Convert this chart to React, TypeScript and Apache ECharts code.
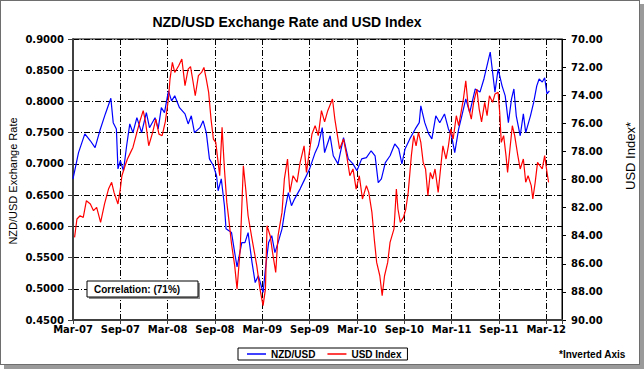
import React, { useEffect, useRef } from "react";
import * as echarts from "echarts";

// x values are months elapsed since Mar-2007
const tickLabels = ["Mar-07", "Sep-07", "Mar-08", "Sep-08", "Mar-09", "Sep-09", "Mar-10", "Sep-10", "Mar-11", "Sep-11", "Mar-12"];

const nzdUsd: [number, number][] = [
  [0.0, 0.676], [0.7, 0.718], [1.5, 0.748], [2.2, 0.737], [2.8, 0.726], [3.4, 0.753], [4.1, 0.78], [4.8, 0.805],
  [5.1, 0.766], [5.5, 0.756], [5.7, 0.692], [6.0, 0.705], [6.4, 0.689], [6.8, 0.729], [7.2, 0.764], [7.6, 0.75],
  [8.1, 0.774], [8.7, 0.75], [9.3, 0.782], [9.7, 0.758], [10.4, 0.774], [10.8, 0.756], [11.2, 0.79], [11.6, 0.782],
  [12.1, 0.817], [12.5, 0.801], [12.9, 0.809], [13.5, 0.79], [14.2, 0.78], [14.6, 0.764], [15.0, 0.777], [15.4, 0.75],
  [16.1, 0.758], [16.5, 0.769], [16.9, 0.75], [17.3, 0.708], [17.8, 0.697], [18.2, 0.681], [18.4, 0.657], [18.8, 0.676],
  [19.2, 0.633], [19.4, 0.596], [20.1, 0.59], [20.5, 0.558], [20.8, 0.535], [21.4, 0.574], [21.8, 0.574], [22.2, 0.59],
  [22.7, 0.542], [23.1, 0.51], [23.5, 0.521], [24.1, 0.494], [24.4, 0.532], [24.8, 0.574], [25.2, 0.585], [25.6, 0.558],
  [26.0, 0.574], [26.5, 0.596], [26.9, 0.628], [27.3, 0.654], [27.7, 0.633], [28.1, 0.644], [28.8, 0.66], [29.4, 0.676],
  [30.0, 0.692], [30.7, 0.718], [31.1, 0.729], [31.6, 0.758], [31.9, 0.718], [32.6, 0.745], [33.0, 0.713], [33.6, 0.7],
  [34.3, 0.742], [34.9, 0.708], [35.5, 0.7], [36.0, 0.689], [36.6, 0.708], [37.2, 0.71], [37.8, 0.721], [38.3, 0.713],
  [38.7, 0.67], [39.1, 0.676], [39.6, 0.702], [40.2, 0.713], [40.8, 0.732], [41.3, 0.724], [41.7, 0.7], [42.1, 0.724],
  [42.7, 0.74], [43.4, 0.756], [43.9, 0.766], [44.1, 0.793], [44.6, 0.766], [45.1, 0.748], [45.5, 0.74], [46.0, 0.777],
  [46.5, 0.766], [47.1, 0.78], [47.6, 0.756], [48.0, 0.745], [48.4, 0.718], [48.9, 0.756], [49.3, 0.777], [49.8, 0.804],
  [50.3, 0.782], [51.0, 0.82], [51.6, 0.815], [52.1, 0.836], [52.6, 0.863], [52.9, 0.879], [53.3, 0.836], [53.5, 0.815],
  [53.9, 0.852], [54.4, 0.825], [54.8, 0.809], [55.2, 0.766], [55.6, 0.804], [55.9, 0.82], [56.2, 0.777], [56.7, 0.745],
  [57.1, 0.78], [57.4, 0.75], [58.0, 0.777], [58.4, 0.798], [58.8, 0.825], [59.1, 0.836], [59.5, 0.831], [59.8, 0.838],
  [60.1, 0.812], [60.4, 0.817],
];

const usdIndex: [number, number][] = [
  [0.2, 84.12], [0.5, 82.81], [0.9, 82.58], [1.3, 82.7], [1.7, 81.51], [2.2, 81.74], [2.6, 82.22], [3.0, 81.98],
  [3.5, 83.05], [4.0, 81.74], [4.5, 80.68], [4.9, 80.2], [5.2, 80.92], [5.7, 81.74], [6.0, 80.68], [6.2, 79.73],
  [6.6, 79.02], [6.9, 78.54], [7.3, 78.07], [7.6, 77.72], [8.1, 76.65], [8.5, 75.82], [8.9, 75.1], [9.2, 75.9],
  [9.6, 77.6], [10.1, 76.65], [10.5, 75.7], [10.9, 76.77], [11.3, 76.88], [11.7, 75.9], [12.1, 74.27], [12.3, 72.85],
  [12.6, 71.66], [12.9, 72.38], [13.4, 71.9], [13.8, 71.42], [14.2, 73.32], [14.6, 72.14], [14.9, 71.96], [15.2, 72.97],
  [15.5, 74.04], [15.9, 72.61], [16.3, 72.38], [16.6, 72.02], [16.9, 72.85], [17.2, 73.8], [17.5, 75.7], [17.8, 77.12],
  [18.1, 77.36], [18.4, 78.78], [18.6, 79.73], [18.9, 76.29], [19.2, 79.25], [19.5, 81.63], [19.8, 83.05], [20.1, 84.59],
  [20.5, 86.13], [20.8, 87.8], [21.2, 84.95], [21.6, 79.02], [21.9, 80.68], [22.2, 82.58], [22.7, 84.24], [23.0, 85.19],
  [23.3, 86.13], [23.7, 87.79], [24.1, 88.98], [24.4, 87.79], [24.6, 83.29], [25.0, 84.0], [25.3, 85.19], [25.7, 86.61],
  [26.0, 84.0], [26.5, 82.34], [26.8, 79.96], [27.2, 78.54], [27.5, 80.92], [27.9, 79.73], [28.4, 80.2], [28.8, 78.78],
  [29.3, 77.6], [29.6, 79.5], [29.9, 78.3], [30.3, 76.76], [30.7, 76.17], [31.1, 76.88], [31.5, 75.1], [31.9, 75.9],
  [32.3, 75.1], [32.9, 74.27], [33.2, 75.7], [33.5, 76.77], [33.8, 77.83], [34.3, 77.12], [34.7, 78.3], [35.1, 79.73],
  [35.5, 79.25], [35.9, 80.68], [36.3, 79.73], [36.7, 81.39], [37.2, 80.44], [37.5, 80.92], [37.9, 82.34], [38.2, 84.24],
  [38.5, 85.9], [38.9, 86.85], [39.2, 88.27], [39.5, 86.85], [39.9, 85.9], [40.2, 84.48], [40.7, 83.52], [41.0, 80.68],
  [41.2, 82.1], [41.5, 83.05], [41.9, 82.7], [42.2, 82.1], [42.5, 80.92], [42.9, 78.3], [43.2, 76.88], [43.5, 77.6],
  [43.8, 76.65], [44.1, 77.36], [44.4, 78.78], [44.7, 79.25], [45.0, 81.15], [45.3, 79.5], [45.6, 79.96], [45.9, 79.25],
  [46.3, 80.92], [46.6, 79.25], [46.9, 77.6], [47.3, 78.54], [47.6, 77.6], [47.9, 76.4], [48.2, 77.12], [48.6, 75.46],
  [48.9, 76.17], [49.2, 75.22], [49.5, 74.27], [49.8, 72.97], [50.1, 74.75], [50.5, 75.7], [50.8, 74.51], [51.2, 73.56],
  [51.5, 74.99], [51.8, 75.9], [52.2, 74.51], [52.5, 75.46], [52.8, 74.04], [53.2, 74.51], [53.5, 73.92], [53.9, 73.8],
  [54.1, 75.22], [54.3, 77.36], [54.6, 76.88], [54.9, 78.3], [55.1, 79.5], [55.4, 77.83], [55.7, 76.17], [56.0, 76.88],
  [56.4, 78.3], [56.7, 79.25], [57.1, 78.54], [57.4, 80.2], [57.7, 79.73], [58.1, 80.44], [58.3, 81.39], [58.6, 80.2],
  [58.9, 78.78], [59.2, 79.02], [59.5, 79.25], [59.8, 78.3], [60.1, 79.5], [60.3, 80.2],
];

const TICK_FONT = "'DejaVu Sans', sans-serif";
const ARIAL = "'Liberation Sans', Arial, sans-serif";
const dashDot = [6, 2, 1, 2];

export default function App() {
  const ref = useRef<HTMLDivElement>(null);

  useEffect(() => {
    document.body.style.margin = "0";
    const chart = echarts.init(ref.current!, null, { renderer: "svg" });
    chart.setOption({
      animation: false,
      backgroundColor: "transparent",
      grid: {
        left: 73, right: 82, top: 39, bottom: 49,
        show: true, backgroundColor: "#ffffff", borderColor: "#000000", borderWidth: 1,
        containLabel: false, outerBoundsMode: "none",
      },
      title: {
        text: "NZD/USD Exchange Rate and USD Index",
        left: 282, top: 10, textAlign: "center",
        textStyle: { fontFamily: ARIAL, fontSize: 14, fontWeight: "bold", color: "#000" },
      },
      legend: {
        left: 238, top: 348,
        data: ["NZD/USD", "USD Index"],
        icon: "rect", itemWidth: 19, itemHeight: 1.5, itemGap: 12,
        padding: [1, 6, 1, 9],
        borderColor: "#000", borderWidth: 1, backgroundColor: "#fff",
        textStyle: { fontFamily: ARIAL, fontSize: 10, fontWeight: "bold", color: "#000" },
      },
      xAxis: {
        type: "value", min: 0, max: 62, interval: 6,
        axisLine: { show: true, onZero: false, lineStyle: { color: "#404040", width: 2 } },
        axisTick: { show: true, length: 4, lineStyle: { color: "#404040" } },
        axisLabel: {
          margin: 4, lineHeight: 10, fontFamily: TICK_FONT, fontSize: 10, fontWeight: "bold", color: "#000",
          formatter: (v: number) => {
            const i = Math.round(v / 6);
            return Math.abs(v - i * 6) < 1e-6 && tickLabels[i] ? tickLabels[i] : "";
          },
        },
        splitLine: { show: true, lineStyle: { color: "#000", width: 1, type: dashDot } },
      },
      yAxis: [
        {
          type: "value", min: 0.45, max: 0.9, interval: 0.05,
          axisLine: { show: true, lineStyle: { color: "#404040", width: 2 } },
          axisTick: { show: true, length: 5, lineStyle: { color: "#404040" } },
          axisLabel: {
            margin: 9, lineHeight: 10, fontFamily: TICK_FONT, fontSize: 10, fontWeight: "bold", color: "#000",
            formatter: (v: number) => v.toFixed(4),
          },
          splitLine: { show: true, lineStyle: { color: "#000", width: 1, type: dashDot } },
        },
        {
          type: "value", position: "right", inverse: true, min: 70, max: 90, interval: 2,
          axisLine: { show: true, lineStyle: { color: "#000", width: 1 } },
          axisTick: { show: true, length: 4, lineStyle: { color: "#000" } },
          axisLabel: {
            margin: 9, lineHeight: 10, fontFamily: TICK_FONT, fontSize: 10, fontWeight: "bold", color: "#000",
            formatter: (v: number) => v.toFixed(2),
          },
          splitLine: { show: false },
        },
      ],
      series: [
        {
          name: "NZD/USD", type: "line", yAxisIndex: 0, data: nzdUsd,
          showSymbol: false, symbol: "none", color: "#0000ff",
          lineStyle: { color: "#0000ff", width: 1.2 },
        },
        {
          name: "USD Index", type: "line", yAxisIndex: 1, data: usdIndex,
          showSymbol: false, symbol: "none", color: "#ff0000",
          lineStyle: { color: "#ff0000", width: 1.2 },
        },
      ],
      graphic: [
        {
          type: "text", x: 13, y: 181, rotation: Math.PI / 2,
          style: { text: "NZD/USD Exchange Rate", fontFamily: ARIAL, fontSize: 11, fill: "#000", align: "center", verticalAlign: "middle" },
        },
        {
          type: "text", x: 630, y: 156, rotation: Math.PI / 2,
          style: { text: "USD Index*", fontFamily: ARIAL, fontSize: 13, fill: "#000", align: "center", verticalAlign: "middle" },
        },
        {
          type: "rect", shape: { x: 89, y: 283, width: 111, height: 16 },
          style: { fill: "#8c8c8c" }, z: 100,
        },
        {
          type: "rect", shape: { x: 87, y: 281, width: 111, height: 16 },
          style: { fill: "#fff", stroke: "#000", lineWidth: 1 }, z: 101,
        },
        {
          type: "text", x: 94, y: 289, z: 102,
          style: { text: "Correlation: (71%)", fontFamily: ARIAL, fontSize: 10, fontWeight: "bold", fill: "#000", verticalAlign: "middle" },
        },
        {
          type: "text", x: 559, y: 354,
          style: { text: "*Inverted Axis", fontFamily: ARIAL, fontSize: 10, fontWeight: "bold", fill: "#000", verticalAlign: "middle" },
        },
      ],
    });
    return () => chart.dispose();
  }, []);

  return (
    <div style={{ position: "absolute", left: 0, top: 0, width: 644, height: 369, background: "#fff", overflow: "hidden" }}>
      <div style={{ position: "absolute", left: 4, top: 4, width: 640, height: 365, background: "#9a9a9a" }} />
      <div style={{ position: "absolute", left: 0, top: 0, width: 640, height: 365, background: "#fff", border: "1px solid #6e6e6e", boxSizing: "border-box" }} />
      <div ref={ref} style={{ position: "absolute", left: 0, top: 0, width: 644, height: 369 }} />
    </div>
  );
}
